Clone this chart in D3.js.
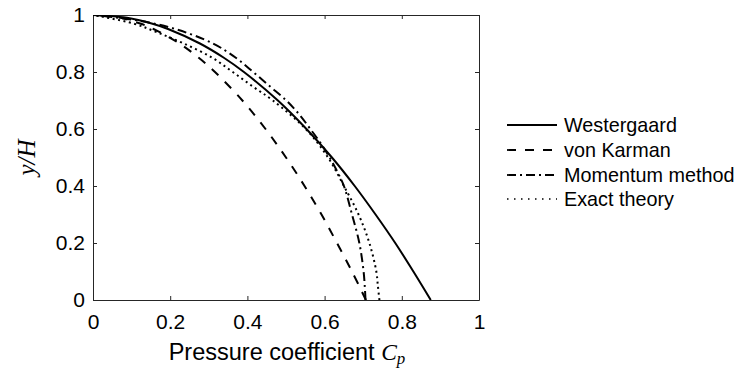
<!DOCTYPE html>
<html>
<head>
<meta charset="utf-8">
<script src="https://cdn.jsdelivr.net/npm/d3@7"></script>
<style>
  html, body { margin: 0; padding: 0; background: #fff; }
  svg { display: block; }
  text { font-family: "Liberation Sans", Arial, sans-serif; fill: #000; }
</style>
</head>
<body>
<svg id="chart" width="743" height="369"></svg>
<script>
// ---- data ----
const seriesNames = ["Westergaard", "von Karman", "Momentum method", "Exact theory"];
// each series: y/H levels and the pressure coefficient Cp read at those levels
const westergaardY  = [0, 0.1, 0.2, 0.3, 0.4, 0.5, 0.6, 0.7, 0.8, 0.85, 0.9, 0.95, 0.97, 0.99, 1];
const westergaardCp = [0.875, 0.830, 0.783, 0.732, 0.678, 0.619, 0.553, 0.479, 0.391, 0.339, 0.277, 0.196, 0.152, 0.088, 0];
const karmanY  = [0, 0.1, 0.2, 0.3, 0.4, 0.5, 0.6, 0.7, 0.8, 0.85, 0.9, 0.95, 0.97, 0.99, 1];
const karmanCp = [0.707, 0.671, 0.632, 0.592, 0.548, 0.50, 0.447, 0.387, 0.316, 0.274, 0.224, 0.158, 0.122, 0.071, 0];
const momentumY  = [0, 0.05, 0.1, 0.2, 0.3, 0.4, 0.45, 0.5, 0.55, 0.6, 0.65, 0.7, 0.75, 0.8, 0.85, 0.9, 0.95, 0.98, 1];
const momentumCp = [0.706, 0.704, 0.701, 0.69, 0.671, 0.65, 0.633, 0.613, 0.59, 0.563, 0.535, 0.501, 0.458, 0.415, 0.37, 0.311, 0.215, 0.12, 0];
const exactY  = [0, 0.05, 0.1, 0.2, 0.3, 0.4, 0.5, 0.6, 0.7, 0.75, 0.8, 0.85, 0.9, 0.94, 0.97, 1];
const exactCp = [0.742, 0.738, 0.734, 0.716, 0.688, 0.65, 0.609, 0.551, 0.466, 0.413, 0.362, 0.309, 0.235, 0.165, 0.105, 0];

const xTicks = [0, 0.2, 0.4, 0.6, 0.8, 1];
const yTicks = [0, 0.2, 0.4, 0.6, 0.8, 1];
const xTickLabels = ["0", "0.2", "0.4", "0.6", "0.8", "1"];
const yTickLabels = ["0", "0.2", "0.4", "0.6", "0.8", "1"];

// ---- layout ----
const svg = d3.select("#chart");
const L = 93, R = 479, T = 15, B = 300;
const x = d3.scaleLinear().domain([0, 1]).range([L, R]);
const y = d3.scaleLinear().domain([0, 1]).range([B, T]);
const tickFs = 21;
const legFs = 19.8;
const xlabFs = 23.5;
const ylabFs = 25;
const axisColor = "#262626";

// clip
svg.append("defs").append("clipPath").attr("id", "clip")
  .append("rect").attr("x", L).attr("y", T).attr("width", R - L).attr("height", B - T);

// axes (ticks inward on all four sides)
const tickLen = 4;
const xAxisB = d3.axisBottom(x).tickValues(xTicks).tickFormat((d, i) => xTickLabels[i])
  .tickSizeInner(-tickLen).tickSizeOuter(0).tickPadding(14);
const yAxisL = d3.axisLeft(y).tickValues(yTicks).tickFormat((d, i) => yTickLabels[i])
  .tickSizeInner(-tickLen).tickSizeOuter(0).tickPadding(8);
const xAxisT = d3.axisTop(x).tickValues(xTicks).tickFormat("").tickSizeInner(-tickLen).tickSizeOuter(0);
const yAxisR = d3.axisRight(y).tickValues(yTicks).tickFormat("").tickSizeInner(-tickLen).tickSizeOuter(0);

function styleAxis(g) {
  g.selectAll("path.domain").attr("stroke", axisColor).attr("stroke-width", 1);
  g.selectAll(".tick line").attr("stroke", axisColor).attr("stroke-width", 1);
  g.selectAll(".tick text").style("font-family", '"Liberation Sans", Arial, sans-serif')
    .style("font-size", tickFs + "px").attr("fill", "#000");
}
styleAxis(svg.append("g").attr("transform", `translate(0,${B})`).call(xAxisB));
styleAxis(svg.append("g").attr("transform", `translate(${L},0)`).call(yAxisL));
styleAxis(svg.append("g").attr("transform", `translate(0,${T})`).call(xAxisT));
styleAxis(svg.append("g").attr("transform", `translate(${R},0)`).call(yAxisR));

// series
const series = [
  { name: seriesNames[0], ys: westergaardY, cps: westergaardCp, dash: null, w: 2 },
  { name: seriesNames[1], ys: karmanY, cps: karmanCp, dash: "9,9", w: 2 },
  { name: seriesNames[2], ys: momentumY, cps: momentumCp, dash: "9,4,2,4", w: 2 },
  { name: seriesNames[3], ys: exactY, cps: exactCp, dash: "2,3.5", w: 2 }
];
const line = d3.line().x(d => x(d[0])).y(d => y(d[1])).curve(d3.curveCatmullRom.alpha(0.5));
const plot = svg.append("g").attr("clip-path", "url(#clip)");
series.forEach(s => {
  const pts = s.ys.map((yy, i) => [s.cps[i], yy]);
  plot.append("path").datum(pts).attr("d", line)
    .attr("fill", "none").attr("stroke", "#000").attr("stroke-width", s.w)
    .attr("stroke-dasharray", s.dash);
});

// axis labels
svg.append("text").attr("x", (L + R) / 2 + 1).attr("y", 360).attr("text-anchor", "middle")
  .style("font-size", xlabFs + "px")
  .call(t => {
    t.append("tspan").text("Pressure coefficient ");
    t.append("tspan").style("font-family", '"Liberation Serif", "Times New Roman", serif')
      .style("font-style", "italic").text("C");
    t.append("tspan").style("font-family", '"Liberation Serif", "Times New Roman", serif')
      .style("font-style", "italic").style("font-size", (xlabFs * 0.72) + "px").attr("dy", 4).text("p");
  });

svg.append("text").attr("transform", `translate(35,${(T + B) / 2}) rotate(-90)`)
  .attr("text-anchor", "middle")
  .style("font-family", '"Liberation Serif", "Times New Roman", serif')
  .style("font-style", "italic").style("font-size", ylabFs + "px")
  .text("y/H");

// legend
const legX0 = 507, legX1 = 557, legTextX = 564;
const legY = [125, 150, 175, 199];
series.forEach((s, i) => {
  svg.append("line").attr("x1", legX0).attr("x2", legX1).attr("y1", legY[i]).attr("y2", legY[i])
    .attr("stroke", "#000").attr("stroke-width", s.dash === "2,3.5" ? 1.3 : (s.dash ? 1.8 : 2))
    .attr("stroke-dasharray", s.dash === "2,3.5" ? "1.5,5.5" : s.dash);
  svg.append("text").attr("x", legTextX).attr("y", legY[i]).attr("dy", "0.35em")
    .style("font-size", legFs + "px").text(s.name);
});
</script>
</body>
</html>
